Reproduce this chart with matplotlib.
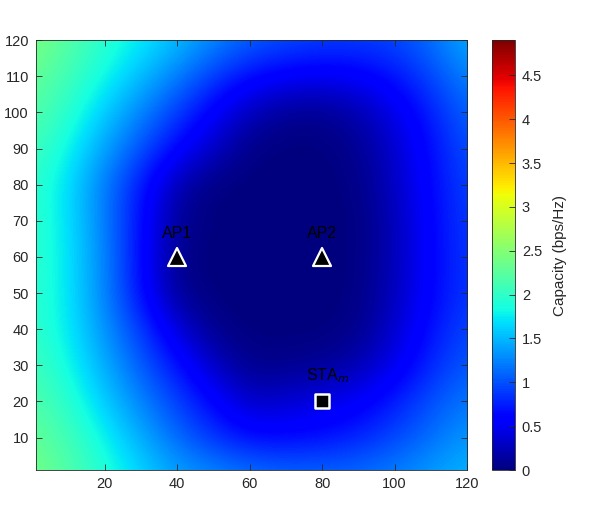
import numpy as np
import matplotlib
matplotlib.use("Agg")
import matplotlib.pyplot as plt
from matplotlib.markers import MarkerStyle

plt.rcParams['font.family'] = ['Liberation Sans', 'DejaVu Sans']

# sample coordinates (data units)
x_samples = [0, 10, 20, 30, 40, 50, 60, 70, 80, 90, 100, 110, 120]
y_samples = [0, 10, 20, 30, 40, 50, 60, 70, 80, 90, 100, 110, 120]

# capacity (bps/Hz), rows from y=0 (bottom) up to y=120 (top)
cap_y0   = [2.42, 2.20, 1.92, 1.65, 1.40, 1.30, 1.20, 1.14, 1.14, 1.16, 1.25, 1.38, 1.50]
cap_y10  = [2.32, 2.10, 1.78, 1.45, 1.12, 0.85, 0.66, 0.64, 0.68, 0.78, 0.95, 1.15, 1.35]
cap_y20  = [2.20, 1.95, 1.60, 1.25, 0.92, 0.62, 0.30, 0.36, 0.45, 0.55, 0.75, 1.00, 1.20]
cap_y30  = [2.10, 1.82, 1.45, 1.05, 0.70, 0.30, 0.05, 0.06, 0.10, 0.22, 0.48, 0.80, 1.05]
cap_y40  = [2.00, 1.75, 1.32, 0.90, 0.40, 0.05, 0.00, 0.00, 0.00, 0.05, 0.35, 0.70, 0.95]
cap_y50  = [2.00, 1.72, 1.25, 0.66, 0.08, 0.00, 0.00, 0.00, 0.00, 0.02, 0.27, 0.62, 0.88]
cap_y60  = [2.00, 1.72, 1.25, 0.65, 0.05, 0.00, 0.00, 0.00, 0.00, 0.01, 0.25, 0.62, 0.88]
cap_y70  = [2.00, 1.70, 1.22, 0.66, 0.10, 0.00, 0.00, 0.00, 0.00, 0.01, 0.25, 0.62, 0.90]
cap_y80  = [2.00, 1.68, 1.20, 0.72, 0.20, 0.00, 0.00, 0.00, 0.00, 0.03, 0.30, 0.64, 0.94]
cap_y90  = [2.10, 1.80, 1.40, 1.00, 0.62, 0.30, 0.02, 0.00, 0.00, 0.08, 0.35, 0.67, 1.00]
cap_y100 = [2.22, 1.95, 1.60, 1.25, 0.90, 0.55, 0.25, 0.08, 0.07, 0.20, 0.45, 0.76, 1.10]
cap_y110 = [2.33, 2.08, 1.82, 1.52, 1.22, 0.90, 0.65, 0.55, 0.50, 0.55, 0.70, 0.95, 1.25]
cap_y120 = [2.45, 2.22, 1.95, 1.75, 1.52, 1.28, 1.08, 0.98, 0.93, 0.92, 0.95, 1.15, 1.45]

cap_rows = [cap_y0, cap_y10, cap_y20, cap_y30, cap_y40, cap_y50, cap_y60,
            cap_y70, cap_y80, cap_y90, cap_y100, cap_y110, cap_y120]

ap_names = ["AP1", "AP2"]
ap_x = [40, 80]
ap_y = [60, 60]
sta_name = "STA$_m$"
sta_x = [80]
sta_y = [20]

cbar_ticks = [0, 0.5, 1, 1.5, 2, 2.5, 3, 3.5, 4, 4.5]
cbar_labels = ["0", "0.5", "1", "1.5", "2", "2.5", "3", "3.5", "4", "4.5"]
vmin, vmax = 0.0, 4.9

xticks = [20, 40, 60, 80, 100, 120]
yticks = [10, 20, 30, 40, 50, 60, 70, 80, 90, 100, 110, 120]

Z = np.array(cap_rows)
dx = x_samples[1] - x_samples[0]
dy = y_samples[1] - y_samples[0]

fig = plt.figure(figsize=(5.98, 5.29), dpi=100)
ax = fig.add_axes([0.060, 0.1115, 0.721, 0.8125])
im = ax.imshow(Z, origin='lower', cmap='jet', vmin=vmin, vmax=vmax,
               interpolation='bicubic', aspect='auto',
               extent=[x_samples[0] - dx / 2, x_samples[-1] + dx / 2,
                       y_samples[0] - dy / 2, y_samples[-1] + dy / 2])
ax.set_xlim(1, 120)
ax.set_ylim(1, 120)
ax.set_xticks(xticks)
ax.set_yticks(yticks)
tc = '#262626'
ax.tick_params(direction='in', top=True, right=True, length=4, width=0.6,
               colors=tc, labelsize=10.5, labelcolor=tc, pad=5)
for s in ax.spines.values():
    s.set_color(tc)
    s.set_linewidth(0.6)

ax.plot(ap_x, ap_y, linestyle='none', marker=MarkerStyle('^', joinstyle='round'),
        markersize=13, markerfacecolor='black', markeredgecolor='white',
        markeredgewidth=1.6)
ax.plot(sta_x, sta_y, linestyle='none', marker=MarkerStyle('s', joinstyle='round'),
        markersize=9.5, markerfacecolor='black', markeredgecolor='white',
        markeredgewidth=1.8)
for n, x, y in zip(ap_names, ap_x, ap_y):
    ax.text(x, y + 4.3, n, ha='center', va='bottom', fontsize=11.5, color='black')
ax.text(sta_x[0] + 1.5, sta_y[0] + 4.6, sta_name, ha='center', va='bottom',
        fontsize=11.5, color='black')

cax = fig.add_axes([0.823, 0.1115, 0.038, 0.8125])
cb = fig.colorbar(im, cax=cax)
cb.set_ticks(cbar_ticks)
cb.set_ticklabels(cbar_labels)
cax.tick_params(direction='in', length=4, width=0.6, colors=tc, labelsize=10.5,
                labelcolor=tc, pad=5)
cb.outline.set_edgecolor(tc)
cb.outline.set_linewidth(0.6)
cb.set_label("Capacity (bps/Hz)", fontsize=11, color=tc, labelpad=8)

fig.savefig("out.png", dpi=100)
